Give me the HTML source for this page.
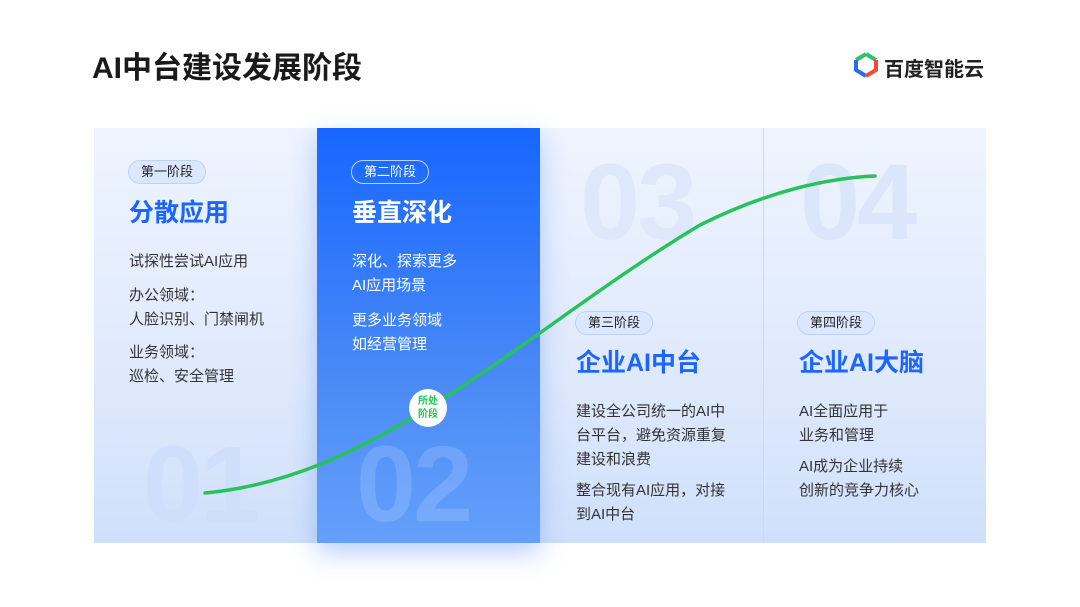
<!DOCTYPE html>
<html><head><meta charset="utf-8"><style>
body{margin:0;width:1080px;height:607px;background:#fff;position:relative;overflow:hidden;font-family:"Liberation Sans","Noto Sans CJK SC",sans-serif;}
.abs{position:absolute;}
.h1{left:92px;top:43px;font-size:30px;font-weight:bold;color:#1a1a1a;}
.panel{left:94px;top:128px;width:892px;height:415px;background:linear-gradient(180deg,#eef4ff 0%,#dfe9fc 60%,#cfe0fb 100%);}
.blue{left:317px;top:128px;width:223px;height:415px;background:linear-gradient(180deg,#1766ff 0%,#4a8af6 60%,#64a0fb 100%);box-shadow:0 10px 24px rgba(60,120,240,.35);}
.div{left:763px;top:128px;width:1px;height:415px;background:#c9d9f6;}
.badge{height:22px;line-height:22px;padding:0 12px;border-radius:12px;font-size:13px;color:#222;background:#dbe7fd;border:1px solid #bdd2fb;}
.badge.w{background:transparent;border:1px solid rgba(255,255,255,.7);color:#fff;}
.t{font-size:25px;font-weight:bold;color:#1a66ff;}
.b{font-size:15px;line-height:24px;color:#333;}
.num{font-size:108px;font-weight:bold;line-height:1;letter-spacing:-3px;}
</style></head><body>
<div class="abs h1">AI中台建设发展阶段</div>
<div class="abs" style="left:853px;top:52px;">
<svg width="26" height="26" viewBox="0 0 26 26"><path d="M13 2 L23 8" stroke="#2ec06a" stroke-width="4" fill="none"/><path d="M13 2 L3 8" stroke="#2ec06a" stroke-width="4" fill="none"/><path d="M3 8 V18 L13 24" stroke="#2a6cf0" stroke-width="4" fill="none"/><path d="M23 8 V18 L13 24" stroke="#f04a3a" stroke-width="4" fill="none"/></svg></div>
<div class="abs" style="left:884px;top:53px;font-size:20px;font-weight:bold;color:#222;">百度智能云</div>
<div class="abs panel"></div>
<div class="abs blue"></div>
<div class="abs div"></div>
<div class="abs num" style="left:143px;top:430px;color:#cfdffb;">01</div>
<div class="abs num" style="left:356px;top:430px;color:rgba(255,255,255,.15);">02</div>
<div class="abs num" style="left:580px;top:148px;color:#dfe8fb;">03</div>
<div class="abs num" style="left:800px;top:148px;color:#dbe6fb;">04</div>
<svg class="abs" style="left:0;top:0" width="1080" height="607"><path d="M205 493 C 290 485, 360 450, 428 408 C 520 352, 600 285, 700 225 C 770 190, 830 178, 875 176" stroke="#27c25c" stroke-width="3.5" fill="none" stroke-linecap="round"/><circle cx="428" cy="408" r="19" fill="#fff"/><text x="428" y="404" font-size="10" font-weight="bold" fill="#27c25c" text-anchor="middle" font-family="Liberation Sans,Noto Sans CJK SC,sans-serif">所处</text><text x="428" y="417" font-size="10" font-weight="bold" fill="#27c25c" text-anchor="middle" font-family="Liberation Sans,Noto Sans CJK SC,sans-serif">阶段</text></svg>
<div class="abs badge" style="left:128px;top:160px;">第一阶段</div>
<div class="abs t" style="left:129px;top:193px;">分散应用</div>
<div class="abs b" style="left:129px;top:250px;">试探性尝试AI应用</div>
<div class="abs b" style="left:129px;top:284px;">办公领域：<br>人脸识别、门禁闸机</div>
<div class="abs b" style="left:129px;top:341px;">业务领域：<br>巡检、安全管理</div>
<div class="abs badge w" style="left:351px;top:160px;">第二阶段</div>
<div class="abs t" style="left:352px;top:193px;color:#fff;">垂直深化</div>
<div class="abs b" style="left:352px;top:250px;color:#fff;">深化、探索更多<br>AI应用场景</div>
<div class="abs b" style="left:352px;top:309px;color:#fff;">更多业务领域<br>如经营管理</div>
<div class="abs badge" style="left:575px;top:311px;">第三阶段</div>
<div class="abs t" style="left:576px;top:343px;">企业AI中台</div>
<div class="abs b" style="left:576px;top:400px;">建设全公司统一的AI中<br>台平台，避免资源重复<br>建设和浪费</div>
<div class="abs b" style="left:576px;top:479px;">整合现有AI应用，对接<br>到AI中台</div>
<div class="abs badge" style="left:797px;top:311px;">第四阶段</div>
<div class="abs t" style="left:799px;top:343px;">企业AI大脑</div>
<div class="abs b" style="left:799px;top:400px;">AI全面应用于<br>业务和管理</div>
<div class="abs b" style="left:799px;top:455px;">AI成为企业持续<br>创新的竞争力核心</div>
</body></html>
